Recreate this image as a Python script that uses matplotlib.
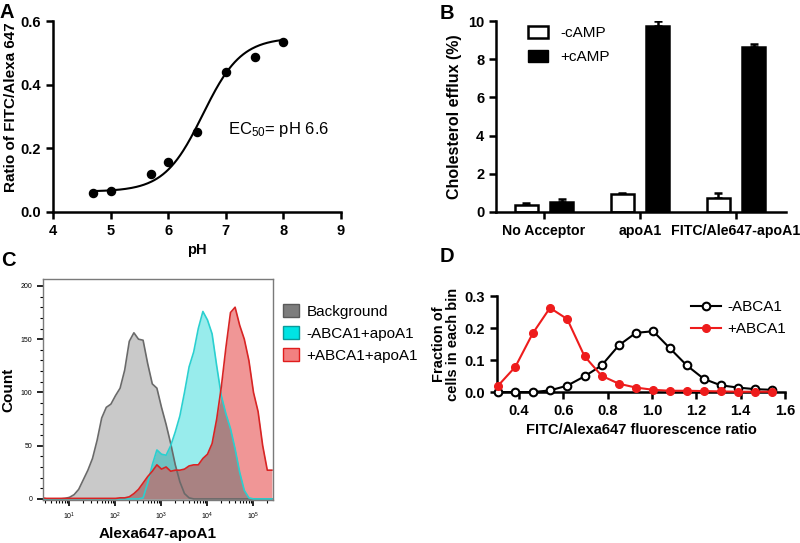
import numpy as np
import matplotlib.pyplot as plt
from matplotlib.patches import Patch
from matplotlib.ticker import FormatStrFormatter, MultipleLocator, LogLocator, NullFormatter

plt.rcParams['font.family'] = ['Liberation Sans', 'DejaVu Sans']
plt.rcParams['font.weight'] = 'bold'
plt.rcParams['axes.labelweight'] = 'bold'
plt.rcParams['mathtext.default'] = 'regular'

# ---- panel A: pH titration ----
ph = [4.7, 5.0, 5.7, 6.0, 6.5, 7.0, 7.5, 8.0]
ratio = [0.06, 0.066, 0.118, 0.158, 0.25, 0.44, 0.488, 0.533]
# sigmoid fit parameters
fit_bottom, fit_top, fit_ec50, fit_hill = 0.064, 0.548, 6.6, 1.3

# ---- panel B: cholesterol efflux ----
groups = ['No Acceptor', 'apoA1', 'FITC/Ale647-apoA1']
minus_camp = [0.37, 0.95, 0.74]
minus_err = [0.09, 0.07, 0.23]
plus_camp = [0.52, 9.72, 8.62]
plus_err = [0.16, 0.28, 0.17]

# ---- panel C: flow histograms (log10 of intensity vs count) ----
log_int = [0.4, 0.5, 0.6, 0.7, 0.8, 0.9, 1.0, 1.1, 1.2, 1.3,
           1.4, 1.5, 1.6, 1.7, 1.8, 1.9, 2.0, 2.1, 2.2, 2.3,
           2.4, 2.5, 2.6, 2.7, 2.8, 2.9, 3.0, 3.1, 3.2, 3.3,
           3.4, 3.5, 3.6, 3.7, 3.8, 3.9, 4.0, 4.1, 4.2, 4.3,
           4.4, 4.5, 4.6, 4.7, 4.8, 4.9, 5.0, 5.1, 5.2, 5.3, 5.4]
background = [0, 0, 0, 0, 0, 0.5, 1.5, 4, 9, 18,
              27, 38, 55, 76, 86, 89, 97, 104, 121, 148,
              156, 150, 149, 127, 108, 104, 86, 70, 52, 32,
              16, 5, 1, 0, 0, 0, 0, 0, 0, 0,
              0, 0, 0, 0, 0, 0, 0, 0, 0, 0, 0]
minus_abca1 = [0, 0, 0, 0, 0, 0, 0, 0, 0, 0,
               0, 0, 0, 0, 0, 0, 0, 0, 0, 0,
               0, 0, 1, 15, 32, 46, 42, 41, 50, 63,
               78, 100, 124, 138, 160, 176, 168, 155, 125, 97,
               80, 66, 47, 25, 8, 1, 0, 0, 0, 0, 0]
plus_abca1 = [1, 0.5, 0.5, 0.5, 0.5, 0.5, 0.5, 0.5, 0.5, 0.5,
              0.5, 0.5, 0.5, 0.5, 0.5, 0.5, 0.5, 1, 1, 2,
              5, 9, 15, 21, 26, 32, 28, 30, 26, 27,
              27, 28, 31, 32, 32, 38, 42, 52, 75, 105,
              142, 175, 180, 163, 150, 130, 100, 82, 50, 27, 27]

# ---- panel D: ratio distribution ----
ratio_bins = [0.305, 0.383, 0.461, 0.539, 0.617, 0.695, 0.772, 0.85, 0.927,
              1.005, 1.08, 1.157, 1.234, 1.31, 1.388, 1.465, 1.54]
frac_minus = [0.0, 0.0, 0.0, 0.005, 0.02, 0.049, 0.083, 0.146, 0.185,
              0.19, 0.137, 0.083, 0.041, 0.021, 0.014, 0.009, 0.007]
frac_plus = [0.02, 0.079, 0.183, 0.263, 0.228, 0.112, 0.051, 0.026, 0.014,
             0.007, 0.004, 0.004, 0.003, 0.002, 0.001, 0.001, 0.001]

fig = plt.figure(figsize=(8, 5.43), dpi=100)


def prism_axes(ax):
    for s in ['top', 'right']:
        ax.spines[s].set_visible(False)
    for s in ['left', 'bottom']:
        ax.spines[s].set_linewidth(1.8)
    ax.tick_params(direction='out', length=5, width=1.8, labelsize=10.5)


def tick_weight(ax, weight):
    for t in ax.get_xticklabels() + ax.get_yticklabels():
        t.set_fontweight(weight)


# A
axA = fig.add_axes([0.06625, 0.6096, 0.36, 0.3517])
ph_line = np.linspace(min(ph), max(ph), 200)
fit_line = fit_bottom + (fit_top - fit_bottom) / (1 + 10 ** (fit_hill * (fit_ec50 - ph_line)))
axA.plot(ph_line, fit_line, color='black', lw=1.5)
axA.scatter(ph, ratio, s=34, color='black', zorder=3, clip_on=False)
axA.set_xlim(4, 9)
axA.set_ylim(0, 0.6)
axA.set_xticks(range(4, 10))
axA.set_yticks([0, 0.2, 0.4, 0.6])
axA.yaxis.set_major_formatter(FormatStrFormatter('%.1f'))
prism_axes(axA)
tick_weight(axA, 'bold')
axA.set_xlabel('pH', fontsize=10.5)
axA.set_ylabel('Ratio of FITC/Alexa 647', fontsize=11)
axA.yaxis.set_label_coords(-0.122, 0.55)
axA.text(7.04, 0.26, r'EC$_{50}$= pH 6.6', fontsize=12, fontweight='normal', va='center')

# B
axB = fig.add_axes([0.62, 0.6096, 0.3625, 0.3517])
xg = np.arange(len(groups))
w, off = 0.24, 0.185
axB.bar(xg - off, minus_camp, w, color='white', edgecolor='black', lw=1.8, zorder=2)
axB.bar(xg + off, plus_camp, w, color='black', edgecolor='black', lw=1.8, zorder=2)
axB.errorbar(xg - off, minus_camp, yerr=[[0] * 3, minus_err], fmt='none', ecolor='black',
             elinewidth=1.8, capsize=3, capthick=1.8, zorder=1)
axB.errorbar(xg + off, plus_camp, yerr=[[0] * 3, plus_err], fmt='none', ecolor='black',
             elinewidth=1.8, capsize=3, capthick=1.8, zorder=1)
axB.set_xlim(-0.5, 2.52)
axB.set_ylim(0, 10)
axB.set_yticks(range(0, 11, 2))
axB.set_xticks(xg)
axB.set_xticklabels(groups)
prism_axes(axB)
axB.tick_params(axis='x', labelsize=10.2)
tick_weight(axB, 'bold')
axB.set_ylabel('Cholesterol efflux (%)', fontsize=11.5)
axB.legend([Patch(facecolor='white', edgecolor='black', lw=1.8), Patch(facecolor='black', edgecolor='black')],
           ['-cAMP', '+cAMP'], loc='upper left', bbox_to_anchor=(0.643, 0.977),
           bbox_transform=fig.transFigure, frameon=False, handlelength=1.3, handleheight=0.8,
           handletextpad=0.8, labelspacing=0.62, prop={'size': 11, 'weight': 'normal'})

# C
axC = fig.add_axes([0.05375, 0.0792, 0.2875, 0.407])
xc = 10 ** np.array(log_int)
bg = np.array(background)
mc = np.array(minus_abca1)
pc = np.array(plus_abca1)
axC.fill_between(xc, bg, color='#c9c9c9', lw=0)
axC.fill_between(xc, mc, color='#98ecec', lw=0)
axC.fill_between(xc, pc, color='#f09696', lw=0)
axC.fill_between(xc, np.minimum(bg, mc), color='#6fc2c2', lw=0)
axC.fill_between(xc, np.minimum(pc, np.maximum(bg, mc)), color='#a98282', lw=0)
axC.plot(xc, bg, color='#6a6a6a', lw=1.2)
axC.plot(xc, mc, color='#2ad0d0', lw=1.2)
axC.plot(xc, pc, color='#d82424', lw=1.2)
axC.set_xscale('log')
axC.set_xlim(10 ** 0.424, 10 ** 5.424)
axC.set_ylim(-1, 206.5)
axC.set_yticks(range(0, 201, 50))
axC.yaxis.set_minor_locator(MultipleLocator(10))
axC.xaxis.set_major_locator(LogLocator(base=10, numticks=10))
axC.xaxis.set_minor_locator(LogLocator(base=10, subs=np.arange(2, 10), numticks=20))
axC.xaxis.set_minor_formatter(NullFormatter())
for s in axC.spines.values():
    s.set_color('#7a7a7a')
    s.set_linewidth(1.0)
axC.tick_params(which='major', direction='out', length=4, width=1.2, labelsize=5)
axC.tick_params(which='minor', direction='out', length=2.5, width=0.8)
tick_weight(axC, 'normal')
axC.set_ylabel('Count', fontsize=11)
axC.set_xlabel('Alexa647-apoA1', fontsize=11)
axC.legend([Patch(facecolor='#7d7d7d', edgecolor='#5a5a5a'),
            Patch(facecolor='#00e4e4', edgecolor='#0a9a9a'),
            Patch(facecolor='#f28080', edgecolor='#e01c1c')],
           ['Background', '-ABCA1+apoA1', '+ABCA1+apoA1'], loc='upper left',
           bbox_to_anchor=(0.337, 0.466), bbox_transform=fig.transFigure, frameon=False,
           handlelength=1.0, handleheight=1.0, handletextpad=0.5, labelspacing=0.45,
           prop={'size': 11, 'weight': 'normal'})

# D
axD = fig.add_axes([0.62125, 0.278, 0.36, 0.1768])
axD.plot(ratio_bins, frac_minus, '-o', color='black', mfc='white', mec='black', ms=5.5, mew=1.5,
         lw=1.5, clip_on=False, zorder=3, label='-ABCA1')
axD.plot(ratio_bins, frac_plus, '-o', color='#ee1c1c', mfc='#ee1c1c', mec='#ee1c1c', ms=5.5,
         lw=1.5, clip_on=False, zorder=3, label='+ABCA1')
axD.set_xlim(0.3, 1.6)
axD.set_ylim(0, 0.3)
axD.set_xticks([0.4, 0.6, 0.8, 1.0, 1.2, 1.4, 1.6])
axD.set_yticks([0, 0.1, 0.2, 0.3])
axD.xaxis.set_major_formatter(FormatStrFormatter('%.1f'))
axD.yaxis.set_major_formatter(FormatStrFormatter('%.1f'))
prism_axes(axD)
tick_weight(axD, 'bold')
axD.set_ylabel('Fraction of\ncells in each bin', fontsize=10.5, linespacing=1.0, labelpad=3)
axD.set_xlabel('FITC/Alexa647 fluorescence ratio', fontsize=10.5)
axD.legend(loc='upper left', bbox_to_anchor=(0.846, 0.473), bbox_transform=fig.transFigure,
           frameon=False, handlelength=2.0, handletextpad=0.4, labelspacing=0.55,
           prop={'size': 11, 'weight': 'normal'})

# panel letters
for lab, x, y in [('A', 0.0, 0.995), ('B', 0.549, 0.993), ('C', 0.002, 0.538), ('D', 0.549, 0.545)]:
    fig.text(x, y, lab, fontsize=14.5, fontweight='bold', va='top', ha='left')

fig.savefig('out.png', dpi=100)
